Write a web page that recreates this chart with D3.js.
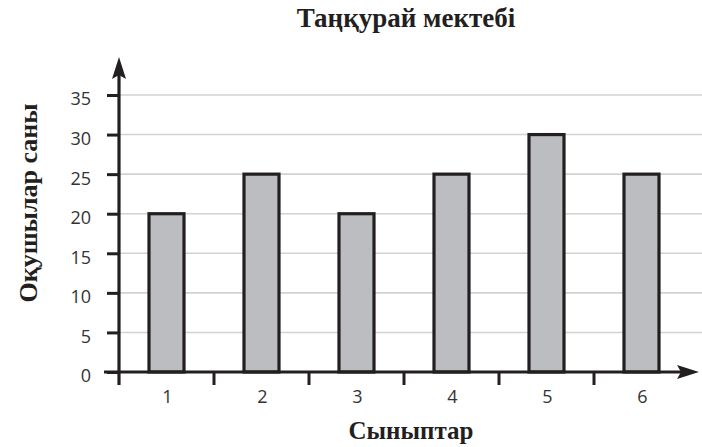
<!DOCTYPE html>
<html><head><meta charset="utf-8">
<script src="https://cdn.jsdelivr.net/npm/d3@7"></script>
<style>body{margin:0;background:#fff}svg{display:block}</style>
</head><body>
<svg id="c" width="702" height="447"></svg>
<script>
const categories = ["1","2","3","4","5","6"];
const values = [20, 25, 20, 25, 30, 25];
const yTicks = [0,5,10,15,20,25,30,35];
const title = "Таңқурай мектебі";
const xTitle = "Сыныптар";
const yTitle = "Оқушылар саны";

const svg = d3.select("#c");
const ink = "#231f20";
const x0 = 119, x1 = 689, yBase = 372, yTop = 95;
const x = d3.scaleBand().domain(categories).range([x0, x1]).paddingInner(0.6).paddingOuter(0.3);
const y = d3.scaleLinear().domain([0, 35]).range([yBase, yTop]);
const sans = "'Open Sans', sans-serif";

// gridlines
svg.append("g").selectAll("line").data(yTicks.filter(d => d > 0)).join("line")
  .attr("x1", x0).attr("x2", 702).attr("y1", d => y(d)).attr("y2", d => y(d))
  .attr("stroke", "#d2d2d2").attr("stroke-width", 1.6);

// bars
svg.append("g").selectAll("rect").data(values).join("rect")
  .attr("x", (d, i) => x(categories[i]) + 1.5)
  .attr("y", d => y(d))
  .attr("width", x.bandwidth() - 3)
  .attr("height", d => yBase - y(d))
  .attr("fill", "#bcbdc0").attr("stroke", ink).attr("stroke-width", 3.2);

// y axis
const yAxis = d3.axisLeft(y).tickValues(yTicks).tickSize(12).tickPadding(16);
const gy = svg.append("g").attr("transform", `translate(${x0},0)`).call(yAxis);
gy.select(".domain").remove();
gy.selectAll(".tick line").attr("stroke", ink).attr("stroke-width", 3);
gy.selectAll(".tick text").attr("fill", "#333").attr("dy", "0.55em")
  .style("font-family", sans).style("font-size", "18px");

// x axis boundary ticks
const bounds = d3.range(categories.length).map(i => x0 + i * x.step());
svg.append("g").selectAll("line").data(bounds.slice(1)).join("line")
  .attr("x1", d => d).attr("x2", d => d).attr("y1", yBase).attr("y2", 385)
  .attr("stroke", ink).attr("stroke-width", 3);

// category labels
svg.append("g").selectAll("text").data(categories).join("text")
  .attr("x", d => x(d) + x.bandwidth() / 2 + 1).attr("y", 403)
  .attr("text-anchor", "middle").attr("fill", "#333")
  .style("font-family", sans).style("font-size", "18px")
  .text(d => d);

// axis lines
svg.append("line").attr("x1", x0).attr("x2", x0).attr("y1", 385).attr("y2", 75)
  .attr("stroke", ink).attr("stroke-width", 3.2);
svg.append("line").attr("x1", x0 - 15).attr("x2", 684).attr("y1", yBase).attr("y2", yBase)
  .attr("stroke", ink).attr("stroke-width", 3.2);
svg.append("path").attr("d", `M${x0},57 L${x0 - 7},79 L${x0},75 L${x0 + 7},79 Z`).attr("fill", ink);
svg.append("path").attr("d", `M699,${yBase} L677,${yBase - 7} L681,${yBase} L677,${yBase + 7} Z`).attr("fill", ink);

// titles
const serif = "'Liberation Serif', 'Times New Roman', serif";
svg.append("text").attr("x", 406).attr("y", 27).attr("text-anchor", "middle")
  .attr("fill", ink).style("font-family", serif).style("font-weight", "bold").style("font-size", "27px")
  .text(title);
svg.append("text").attr("x", 411).attr("y", 439).attr("text-anchor", "middle")
  .attr("fill", ink).style("font-family", serif).style("font-weight", "bold").style("font-size", "25px")
  .text(xTitle);
svg.append("text").attr("transform", "translate(37,203) rotate(-90)").attr("text-anchor", "middle")
  .attr("fill", ink).style("font-family", serif).style("font-weight", "bold").style("font-size", "26px")
  .text(yTitle);
</script>
</body></html>
